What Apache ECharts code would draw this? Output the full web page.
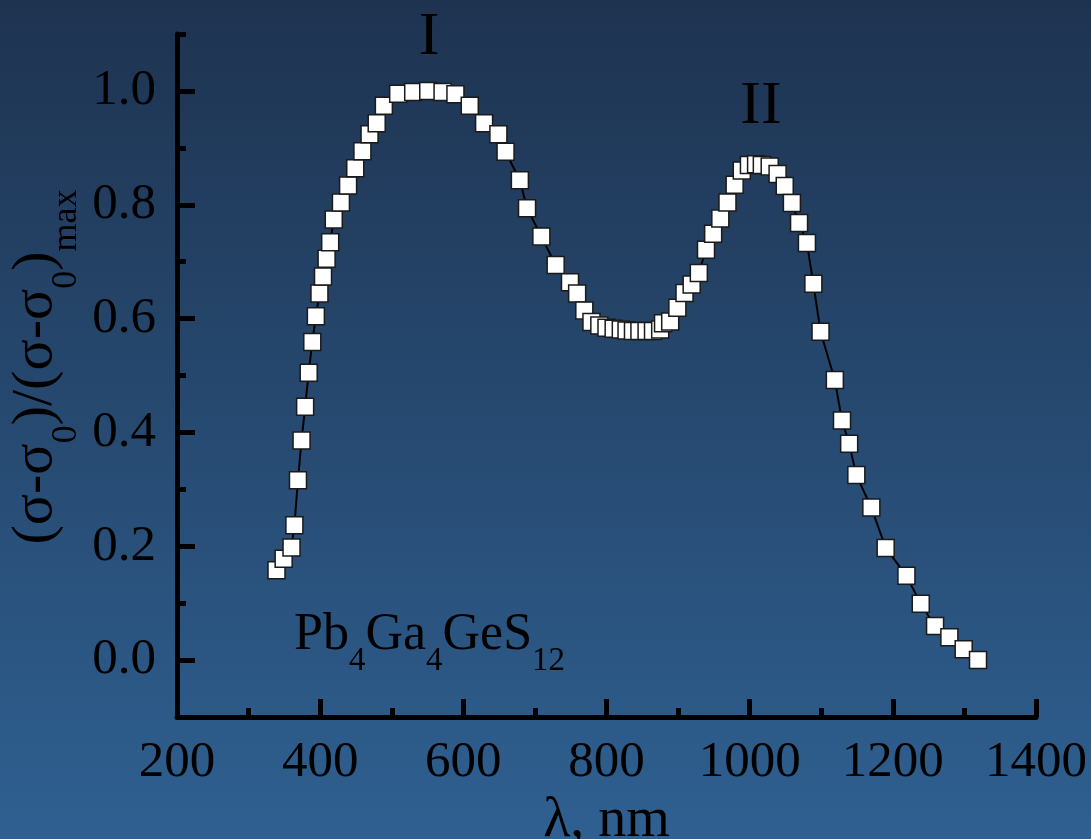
<!DOCTYPE html>
<html>
<head>
<meta charset="utf-8">
<script src="https://cdn.jsdelivr.net/npm/echarts@6/dist/echarts.min.js"></script>
<style>
  html, body { margin: 0; padding: 0; }
  #chart { width: 1091px; height: 839px; }
</style>
</head>
<body>
<div id="chart"></div>
<script>
// Wavelength (nm) of each measured point
const wavelength = [339,349,360,364,369,374,379,384,389,394,399,404,409,414,419,429,439,449,459,469,479,489,509,530,551,571,589,609,629,649,659,679,689,709,729,749,759,769,779,790,800,810,820,828,837,846,856,865,875,879,889,899,909,919,929,939,949,959,969,979,989,999,1009,1017,1028,1039,1049,1059,1069,1080,1089,1099,1119,1129,1139,1149,1170,1190,1219,1239,1259,1279,1299,1319];
// Normalised photoconductivity (σ-σ0)/(σ-σ0)max
const conductivity = [0.158,0.178,0.198,0.237,0.316,0.386,0.445,0.505,0.559,0.604,0.644,0.674,0.705,0.734,0.774,0.804,0.834,0.864,0.894,0.924,0.943,0.974,0.995,0.998,1.0,0.998,0.994,0.974,0.943,0.924,0.893,0.843,0.794,0.744,0.694,0.664,0.644,0.614,0.594,0.588,0.584,0.582,0.581,0.579,0.578,0.578,0.578,0.578,0.581,0.592,0.595,0.619,0.645,0.660,0.680,0.721,0.749,0.776,0.804,0.835,0.860,0.870,0.871,0.870,0.867,0.854,0.833,0.803,0.768,0.733,0.661,0.577,0.492,0.421,0.380,0.325,0.268,0.197,0.148,0.099,0.060,0.040,0.019,0.0];
// Axis tick values
const yMajorTicks = [0, 0.2, 0.4, 0.6, 0.8, 1.0];
const yMinorTicks = [-0.1, 0.1, 0.3, 0.5, 0.7, 0.9, 1.1];
const peakLabels = ['I', 'II'];
const xTitle = 'λ, nm';

const FONT = "'Liberation Serif', 'Times New Roman', serif";
const points = wavelength.map((w, i) => [w, conductivity[i]]);

const chart = echarts.init(document.getElementById('chart'), null, { renderer: 'canvas' });
chart.setOption({
  backgroundColor: {
    type: 'linear', x: 0, y: 0, x2: 0, y2: 1,
    colorStops: [{ offset: 0, color: '#1e3350' }, { offset: 1, color: '#2f6091' }]
  },
  animation: false,
  grid: { left: 177, right: 55, top: 34, bottom: 122, containLabel: false, outerBoundsMode: 'none' },
  xAxis: {
    type: 'value', min: 200, max: 1400, interval: 200,
    name: xTitle, nameLocation: 'middle', nameGap: 57,
    nameTextStyle: { fontFamily: FONT, fontSize: 56, color: '#000' },
    axisLine: { show: true, onZero: false, lineStyle: { color: '#000', width: 5 } },
    axisTick: { show: true, inside: true, length: 18, lineStyle: { color: '#000', width: 5 } },
    minorTick: { show: true, splitNumber: 2, length: 9, lineStyle: { color: '#000', width: 5 } },
    axisLabel: { fontFamily: FONT, fontSize: 51, color: '#000', margin: 20, formatter: v => String(v) },
    splitLine: { show: false }
  },
  yAxis: [{
    type: 'value', min: -0.1, max: 1.1,
    axisLine: { show: true, onZero: false, lineStyle: { color: '#000', width: 5 } },
    axisTick: { show: true, inside: true, length: 18, customValues: yMajorTicks, lineStyle: { color: '#000', width: 5 } },
    axisLabel: { fontFamily: FONT, fontSize: 51, color: '#000', margin: 21, customValues: yMajorTicks,
      formatter: v => v.toFixed(1) },
    splitLine: { show: false }
  }, {
    type: 'value', min: -0.1, max: 1.1, position: 'left',
    axisLine: { show: false },
    axisTick: { show: true, inside: true, length: 9, customValues: yMinorTicks, lineStyle: { color: '#000', width: 5 } },
    axisLabel: { show: false },
    splitLine: { show: false }
  }],
  series: [{
    type: 'line', data: points, yAxisIndex: 0,
    symbol: 'rect', symbolSize: 17, showAllSymbol: true,
    lineStyle: { color: '#000', width: 2 },
    itemStyle: { color: '#ffffff', borderColor: '#1a1a1a', borderWidth: 1.5 }
  }],
  graphic: [
    { type: 'text', x: 429, y: 38, style: { text: peakLabels[0], font: '62px ' + FONT, fill: '#000', align: 'center', verticalAlign: 'middle' } },
    { type: 'text', x: 761, y: 107, style: { text: peakLabels[1], font: '62px ' + FONT, fill: '#000', align: 'center', verticalAlign: 'middle' } },
    { type: 'text', x: 294, y: 610, style: {
        text: '{m|Pb}{s|4}{m|Ga}{s|4}{m|GeS}{s|12}', align: 'left', verticalAlign: 'top',
        rich: {
          m: { fontFamily: FONT, fontSize: 52, lineHeight: 50, height: 50, color: '#000', verticalAlign: 'top' },
          s: { fontFamily: FONT, fontSize: 33, lineHeight: 102, height: 102, color: '#000', verticalAlign: 'top' }
        } } },
    { type: 'text', x: 7, y: 367, rotation: Math.PI / 2, style: {
        text: '{m|(σ-σ}{s|0}{m|)/(σ-σ}{s|0}{m|)}{s|max}', align: 'center', verticalAlign: 'top',
        rich: {
          m: { fontFamily: FONT, fontSize: 58, lineHeight: 57, height: 57, color: '#000', verticalAlign: 'top' },
          s: { fontFamily: FONT, fontSize: 36, lineHeight: 120, height: 120, color: '#000', verticalAlign: 'top' }
        } } }
  ]
});
</script>
</body>
</html>
